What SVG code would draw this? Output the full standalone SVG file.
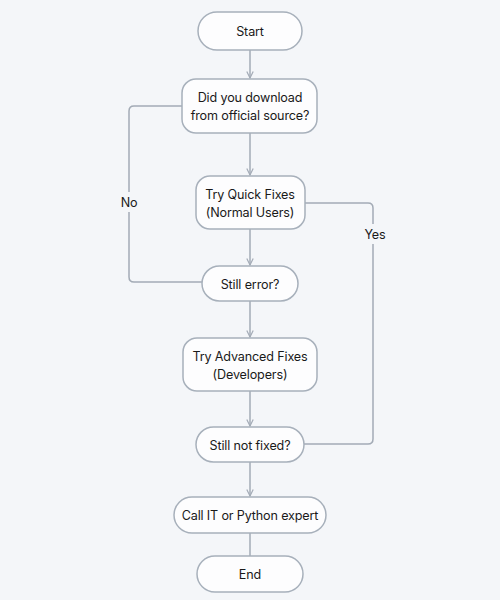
<svg xmlns="http://www.w3.org/2000/svg" width="500" height="600" viewBox="0 0 500 600">
<defs>
<style>
.bg{fill:#f4f6f9}
.node rect{fill:#fdfdfe;stroke:#a7b0bb;stroke-width:1.5}
.node text,.lbl{font-family:Inter,"Liberation Sans",sans-serif;font-size:12.6px;letter-spacing:-0.15px;fill:#1a1a1a;text-anchor:middle;dominant-baseline:central}
.edge{fill:none;stroke:#a3abb6;stroke-width:1.5}
.lblbg{fill:#f4f6f9}
</style>
<marker id="arr" viewBox="0 0 10 10" refX="9" refY="5" markerWidth="8" markerHeight="8" markerUnits="userSpaceOnUse" orient="auto">
<path d="M1,1 L9,5 L1,9" fill="none" stroke="#a3abb6" stroke-width="1.5"/>
</marker>
</defs>
<rect class="bg" x="0" y="0" width="500" height="600"/>
<g id="connectors">
<path class="edge" d="M250,50 V78" marker-end="url(#arr)"/>
<path class="edge" d="M250,133 V175" marker-end="url(#arr)"/>
<path class="edge" d="M250,229 V265" marker-end="url(#arr)"/>
<path class="edge" d="M250,301 V337" marker-end="url(#arr)"/>
<path class="edge" d="M250,391 V426" marker-end="url(#arr)"/>
<path class="edge" d="M250,462 V496" marker-end="url(#arr)"/>
<path class="edge" d="M250,533 V556"/>
<path class="edge" d="M182,106 H134 Q129,106 129,111 V277 Q129,282 134,282 H202"/>
<path class="edge" d="M305,203 H368 Q373,203 373,208 V439 Q373,444 368,444 H304"/>
<rect class="lblbg" x="118" y="192" width="24" height="20"/>
<text class="lbl" x="129" y="202">No</text>
<rect class="lblbg" x="361" y="224" width="28" height="20"/>
<text class="lbl" x="375" y="234">Yes</text>
</g>
<g id="start" class="node"><rect x="198" y="12" width="104" height="38" rx="19"/><text x="250" y="31">Start</text></g>
<g id="official" class="node"><rect x="182" y="79" width="135" height="54" rx="14"/><text x="250" y="97">Did you download</text><text x="250" y="115">from official source?</text></g>
<g id="quick" class="node"><rect x="196" y="176" width="109" height="53" rx="14"/><text x="250" y="194">Try Quick Fixes</text><text x="250" y="212">(Normal Users)</text></g>
<g id="error" class="node"><rect x="202" y="266" width="96" height="35" rx="17.5"/><text x="250" y="284">Still error?</text></g>
<g id="advanced" class="node"><rect x="183" y="338" width="134" height="53" rx="14"/><text x="250" y="356">Try Advanced Fixes</text><text x="250" y="374">(Developers)</text></g>
<g id="notfixed" class="node"><rect x="196" y="427" width="108" height="35" rx="17.5"/><text x="250" y="445">Still not fixed?</text></g>
<g id="call" class="node"><rect x="174" y="497" width="152" height="36" rx="18"/><text x="250" y="515">Call IT or Python expert</text></g>
<g id="end" class="node"><rect x="197" y="556" width="106" height="36" rx="18"/><text x="250" y="574">End</text></g>
</svg>
